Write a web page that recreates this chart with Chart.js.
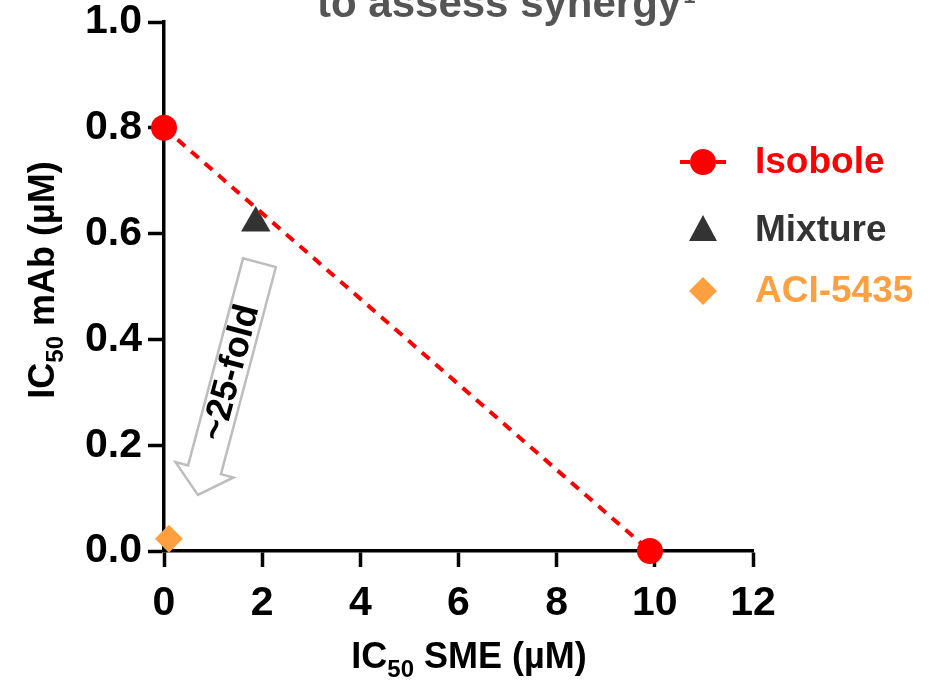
<!DOCTYPE html>
<html>
<head>
<meta charset="utf-8">
<script src="https://cdn.jsdelivr.net/npm/chart.js@4.4.1/dist/chart.umd.min.js"></script>
<style>
  html, body { margin: 0; padding: 0; background: #ffffff; }
  #wrap { width: 938px; height: 682px; position: relative; }
</style>
</head>
<body>
<div id="wrap"><canvas id="c" width="938" height="682"></canvas></div>
<script>
// ---- Data ----
const seriesNames = ['Isobole', 'Mixture', 'ACI-5435'];
const isoboleX = [0, 9.9];
const isoboleY = [0.8, 0];
const mixtureX = [1.87];
const mixtureY = [0.62];
const aciX = [0.1];
const aciY = [0.023];
const xTicks = [0, 2, 4, 6, 8, 10, 12];
const yTicks = [0.0, 0.2, 0.4, 0.6, 0.8, 1.0];
const titleText = 'to assess synergy';
const xTitleParts = ['IC', '50', ' SME (\u00B5M)'];
const yTitleParts = ['IC', '50', ' mAb (\u00B5M)'];
const foldLabel = '~25-fold';
// arrow annotation in data units: from below the mixture point toward ACI-5435
const arrowFrom = [1.945, 0.545];
const arrowTo = [0.69, 0.106];

const RED = '#ff0000', DARK = '#333333', ORANGE = '#ffa040';
const FONT = '"Liberation Sans", Arial, Helvetica, sans-serif';

function toPts(xs, ys) { return xs.map((x, i) => ({ x: x, y: ys[i] })); }

function drawSubTitle(ctx, parts, size, subSize, subDrop) {
  ctx.font = 'bold ' + size + 'px ' + FONT;
  const w0 = ctx.measureText(parts[0]).width;
  const w2 = ctx.measureText(parts[2]).width;
  ctx.font = 'bold ' + subSize + 'px ' + FONT;
  const w1 = ctx.measureText(parts[1]).width;
  const total = w0 + w1 + w2;
  let x = -total / 2;
  ctx.textAlign = 'left';
  ctx.textBaseline = 'alphabetic';
  ctx.font = 'bold ' + size + 'px ' + FONT;
  ctx.fillText(parts[0], x, 0); x += w0;
  ctx.font = 'bold ' + subSize + 'px ' + FONT;
  ctx.fillText(parts[1], x, subDrop); x += w1;
  ctx.font = 'bold ' + size + 'px ' + FONT;
  ctx.fillText(parts[2], x, 0);
}

const decor = {
  id: 'decor',
  afterDraw(chart) {
    const ctx = chart.ctx;
    const xs = chart.scales.x, ys = chart.scales.y;
    ctx.save();
    // clipped title at top
    ctx.fillStyle = '#555555';
    ctx.font = 'bold 42px ' + FONT;
    ctx.textAlign = 'left';
    ctx.textBaseline = 'alphabetic';
    ctx.fillText(titleText, 317, 17);
    const tw = ctx.measureText(titleText).width;
    ctx.font = 'bold 22px ' + FONT;
    ctx.fillText('1', 317 + tw + 2, 3);

    // axis titles
    ctx.fillStyle = '#000000';
    ctx.save();
    ctx.translate(469, 668);
    drawSubTitle(ctx, xTitleParts, 36, 24, 9);
    ctx.restore();
    ctx.save();
    ctx.translate(54, 280);
    ctx.rotate(-Math.PI / 2);
    drawSubTitle(ctx, yTitleParts, 36, 24, 9);
    ctx.restore();

    // fold-change arrow (anchored to data coordinates)
    const x0 = xs.getPixelForValue(arrowFrom[0]), y0 = ys.getPixelForValue(arrowFrom[1]);
    const x1 = xs.getPixelForValue(arrowTo[0]), y1 = ys.getPixelForValue(arrowTo[1]);
    const len = Math.hypot(x1 - x0, y1 - y0);
    const ang = Math.atan2(y1 - y0, x1 - x0);
    const half = 17, headHalf = 30, headLen = 26;
    ctx.save();
    ctx.translate(x0, y0);
    ctx.rotate(ang);
    ctx.beginPath();
    ctx.moveTo(0, -half);
    ctx.lineTo(len - headLen, -half);
    ctx.lineTo(len - headLen, -headHalf);
    ctx.lineTo(len, 0);
    ctx.lineTo(len - headLen, headHalf);
    ctx.lineTo(len - headLen, half);
    ctx.lineTo(0, half);
    ctx.closePath();
    ctx.fillStyle = '#ffffff';
    ctx.fill();
    ctx.strokeStyle = '#bdbdbd';
    ctx.lineWidth = 2.5;
    ctx.stroke();
    // label along shaft
    ctx.translate((len - headLen) * 0.53, 0);
    ctx.rotate(Math.PI);
    ctx.fillStyle = '#000000';
    ctx.font = 'bold 36px ' + FONT;
    ctx.textAlign = 'center';
    ctx.textBaseline = 'middle';
    ctx.fillText(foldLabel, 0, 1);
    ctx.restore();

    // legend
    const lx = 703, tx = 755;
    const rows = [162, 230, 291];
    ctx.textAlign = 'left';
    ctx.textBaseline = 'middle';
    ctx.font = 'bold 37px ' + FONT;
    // Isobole
    ctx.strokeStyle = RED; ctx.lineWidth = 4;
    ctx.setLineDash([10, 8]);
    ctx.beginPath(); ctx.moveTo(680, rows[0]); ctx.lineTo(730, rows[0]); ctx.stroke();
    ctx.setLineDash([]);
    ctx.fillStyle = RED;
    ctx.beginPath(); ctx.arc(lx, rows[0], 13, 0, Math.PI * 2); ctx.fill();
    ctx.fillText(seriesNames[0], tx, rows[0] + 1);
    // Mixture
    ctx.fillStyle = DARK;
    ctx.beginPath();
    ctx.moveTo(lx, rows[1] - 15); ctx.lineTo(lx + 14, rows[1] + 11); ctx.lineTo(lx - 14, rows[1] + 11);
    ctx.closePath(); ctx.fill();
    ctx.fillText(seriesNames[1], tx, rows[1] + 1);
    // ACI
    ctx.fillStyle = ORANGE;
    ctx.beginPath();
    ctx.moveTo(lx, rows[2] - 14); ctx.lineTo(lx + 14, rows[2]); ctx.lineTo(lx, rows[2] + 14); ctx.lineTo(lx - 14, rows[2]);
    ctx.closePath(); ctx.fill();
    ctx.fillText(seriesNames[2], tx, rows[2] + 1);
    ctx.restore();
  }
};

new Chart(document.getElementById('c'), {
  type: 'scatter',
  data: {
    datasets: [
      {
        label: seriesNames[0],
        data: toPts(isoboleX, isoboleY),
        showLine: true,
        borderColor: RED,
        borderWidth: 4,
        borderDash: [10, 8],
        backgroundColor: RED,
        pointBackgroundColor: RED,
        pointBorderColor: RED,
        pointRadius: 13,
        pointBorderWidth: 0,
        pointStyle: 'circle',
        clip: false,
        order: 1
      },
      {
        label: seriesNames[1],
        data: toPts(mixtureX, mixtureY),
        backgroundColor: DARK,
        pointBackgroundColor: DARK,
        pointBorderColor: DARK,
        pointRadius: 17,
        pointBorderWidth: 0,
        pointStyle: 'triangle',
        clip: false,
        order: 2
      },
      {
        label: seriesNames[2],
        data: toPts(aciX, aciY),
        backgroundColor: ORANGE,
        pointBackgroundColor: ORANGE,
        pointBorderColor: ORANGE,
        pointRadius: 14,
        pointBorderWidth: 0,
        pointStyle: 'rectRot',
        clip: false,
        order: 0
      }
    ]
  },
  options: {
    responsive: false,
    devicePixelRatio: 1,
    animation: false,
    layout: { padding: { left: 0, right: 185, top: 22, bottom: 0 } },
    plugins: { legend: { display: false }, tooltip: { enabled: false }, title: { display: false } },
    scales: {
      x: {
        type: 'linear',
        min: 0, max: 12,
        afterBuildTicks(s) { s.ticks = xTicks.map(v => ({ value: v })); },
        afterFit(s) { s.height = 131; s.paddingLeft = 0; s.paddingRight = 0; },
        border: { display: true, color: '#000000', width: 3.5 },
        grid: { drawOnChartArea: false, drawTicks: true, tickLength: 16, tickWidth: 3.5, tickColor: '#000000' },
        ticks: { color: '#000000', padding: 12, font: { family: FONT, size: 41, weight: 'bold' }, maxRotation: 0 }
      },
      y: {
        type: 'linear',
        min: 0, max: 1,
        afterBuildTicks(s) { s.ticks = yTicks.map(v => ({ value: v })); },
        afterFit(s) { s.width = 164; s.paddingTop = 0; s.paddingBottom = 0; },
        border: { display: true, color: '#000000', width: 3.5 },
        grid: { drawOnChartArea: false, drawTicks: true, tickLength: 16, tickWidth: 3.5, tickColor: '#000000' },
        ticks: { color: '#000000', padding: 6, font: { family: FONT, size: 41, weight: 'bold' },
                 callback: v => Number(v).toFixed(1) }
      }
    }
  },
  plugins: [decor]
});
</script>
</body>
</html>
